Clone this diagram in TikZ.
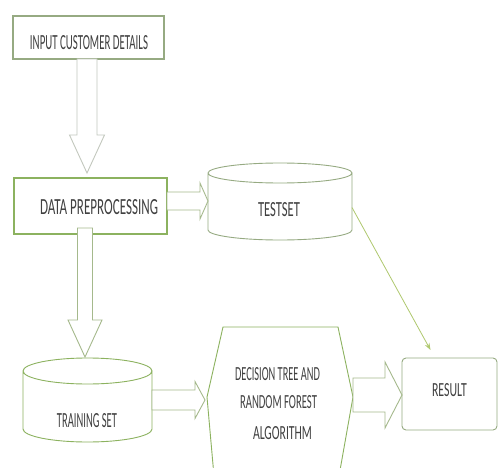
\documentclass[tikz,border=0pt]{standalone}
\usepackage{fontspec}
\usepackage{graphicx}
\newfontfamily\carlito{Carlito}
\usetikzlibrary{calc,arrows.meta}
\definecolor{shpg}{RGB}{140,178,95}
\definecolor{boxg}{RGB}{150,170,130}
\definecolor{arrg}{RGB}{165,185,140}
\definecolor{arrl}{RGB}{195,200,190}
\definecolor{txtc}{RGB}{65,65,65}
\definecolor{lineg}{RGB}{175,200,110}
\newcommand\lbl[3]{\resizebox{#1}{#2}{\carlito #3}}
% cylinder outline around an invisible node: #1 style, #2 node, #3 ellipse y radius
\newcommand\cylout[3]{%
  \draw[#1] let \p1=(#2.north west), \p2=(#2.south east), \n1={(\x2-\x1)/2} in
    (\x1,\y1-#3) arc[start angle=180,end angle=-180,x radius=\n1,y radius=#3]
    (\x1,\y1-#3) -- (\x1,\y2+#3) arc[start angle=180,end angle=360,x radius=\n1,y radius=#3]
    -- (\x2,\y1-#3);}
% down block arrow: #1 style, #2 start, #3 tip, #4 shaft half, #5 head half, #6 head length
\newcommand\blkdown[6]{%
  \draw[#1] let \p1=(#2), \p2=(#3) in
    (\x2-#4,\y1) -- (\x2-#4,\y2+#6) -- (\x2-#5,\y2+#6) -- (\x2,\y2)
    -- (\x2+#5,\y2+#6) -- (\x2+#4,\y2+#6) -- (\x2+#4,\y1) -- cycle;}
% right block arrow
\newcommand\blkright[6]{%
  \draw[#1] let \p1=(#2), \p2=(#3) in
    (\x1,\y1+#4) -- (\x2-#6,\y1+#4) -- (\x2-#6,\y1+#5) -- (\x2,\y1)
    -- (\x2-#6,\y1-#5) -- (\x2-#6,\y1-#4) -- (\x1,\y1-#4) -- cycle;}
\begin{document}
\begin{tikzpicture}[x=1pt,y=-1pt,
  hid/.style={inner sep=0pt,outer sep=0pt},
  txt/.style={inner sep=0pt,text=txtc},
  shp/.style={draw=shpg,line width=0.9pt,fill=white},
  blk/.style={draw=arrg,line width=0.9pt,fill=white}]
\useasboundingbox[fill=white] (0,0) rectangle (498,468);
\begin{scope}
\clip (0,0) rectangle (498,468);
% nodes (geometry)
\node[hid,draw=boxg,line width=1.6pt,minimum width=151pt,minimum height=43pt] (in) at (88.5,37.5) {};
\node[hid,draw=shpg,line width=1.3pt,minimum width=153pt,minimum height=56pt] (dp) at (90.5,206) {};
\node[hid,minimum width=144pt,minimum height=77pt] (ts) at (280,201.5) {};
\node[hid,minimum width=129pt,minimum height=84pt] (tr) at (87.5,400) {};
\node[hid,minimum width=146pt,minimum height=140pt] (dt) at (280,397) {};
\node[hid,draw=boxg,line width=0.9pt,rounded corners=4pt,minimum width=95pt,minimum height=72pt] (rs) at (449.5,394) {};
% shapes
\cylout{draw=boxg,line width=0.9pt,fill=white}{ts}{10pt}
\cylout{shp}{tr}{13pt}
\draw[shp] (207,397) -- (223,327) -- (338,327) -- (353,397) -- (339,476) -- (214,476) -- cycle;
% block arrows
\blkdown{draw=arrl,line width=0.9pt,fill=white}{in.south}{[xshift=-3.5pt,yshift=5pt]dp.north}{10pt}{17.5pt}{38pt}
\blkright{blk}{[yshift=5pt]dp.east}{ts.west}{9pt}{18pt}{8pt}
\blkdown{blk}{[yshift=6pt]dp.south}{[xshift=-2.5pt,yshift=1pt]tr.north}{7.5pt}{17pt}{37pt}
\blkright{blk}{tr.east}{[xshift=-2pt]dt.west}{10pt}{18.5pt}{10pt}
\blkright{blk}{[yshift=2pt]dt.east}{rs.west}{17pt}{33pt}{17pt}
% thin connector
\draw[draw=lineg,line width=0.8pt,-{Stealth[length=7pt,width=5pt]}] ([yshift=-6pt]ts.east) -- ([xshift=-19pt,yshift=8pt]rs.north);
% labels
\node[txt] (inl) at (89,42.5) {\lbl{118pt}{14pt}{INPUT CUSTOMER DETAILS}};
\node[txt] (dpl) at (99,207.5) {\lbl{118pt}{15pt}{DATA PREPROCESSING}};
\node[txt] (tsl) at (279,209.5) {\lbl{42pt}{14pt}{TESTSET}};
\node[txt] (trl) at (87,421) {\lbl{60pt}{14pt}{TRAINING SET}};
\node[txt] (dt1) at (277.5,374.5) {\lbl{85pt}{13pt}{DECISION TREE AND}};
\node[txt] (dt2) at (278.5,402.5) {\lbl{77pt}{13pt}{RANDOM FOREST}};
\node[txt] (dt3) at (282.5,433.5) {\lbl{59pt}{13pt}{ALGORITHM}};
\node[txt] (rsl) at (449.5,390) {\lbl{35pt}{13pt}{RESULT}};
\end{scope}
\end{tikzpicture}
\end{document}
